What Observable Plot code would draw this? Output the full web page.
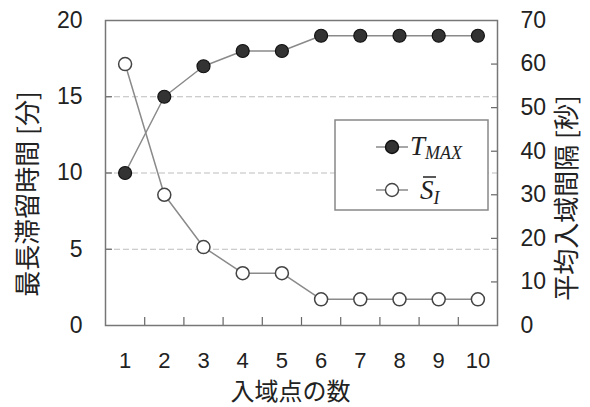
<!DOCTYPE html>
<html><head><meta charset="utf-8">
<script src="https://cdn.jsdelivr.net/npm/d3@7"></script>
<script src="https://cdn.jsdelivr.net/npm/@observablehq/plot@0.6"></script>
<style>body{margin:0;background:#fff}</style>
</head><body><div id="chart"></div>
<script>
// ---- data ----
const entryPoints = [1, 2, 3, 4, 5, 6, 7, 8, 9, 10];
const tMax = [10, 15, 17, 18, 18, 19, 19, 19, 19, 19];      // 最長滞留時間 [分]
const sI = [60, 30, 18, 12, 12, 6, 6, 6, 6, 6];             // 平均入域間隔 [秒]
const leftTicks = [0, 5, 10, 15, 20];
const rightTicks = [0, 10, 20, 30, 40, 50, 60, 70];
const gridTicks = [5, 10, 15];
const xMinorTicks = [1.5, 2.5, 3.5, 4.5, 5.5, 6.5, 7.5, 8.5, 9.5];
const leftTitle = "最長滞留時間 [分]";
const rightTitle = "平均入域間隔 [秒]";
const xTitle = "入域点の数";

const k = 20 / 70; // right axis (0-70) mapped onto left axis (0-20)
const tData = entryPoints.map((x, i) => ({x, y: tMax[i]}));
const sData = entryPoints.map((x, i) => ({x, y: sI[i] * k}));

const W = 590, H = 407, mL = 105, mR = 93, mT = 20, mB = 82;
const fw = W - mL - mR, fh = H - mT - mB;
const numFont = "'Liberation Sans', Arial, sans-serif";
const jpFont = "'Noto Sans CJK JP', sans-serif";

const plot = Plot.plot({
  width: W, height: H, marginLeft: mL, marginRight: mR, marginTop: mT, marginBottom: mB,
  x: {domain: [0.5, 10.5]},
  y: {domain: [0, 20]},
  style: {fontFamily: numFont, fontSize: "23px", color: "#222", background: "#fff"},
  marks: [
    Plot.ruleY(gridTicks, {stroke: "#bdbdbd", strokeWidth: 1, strokeDasharray: "6,3"}),
    Plot.ruleY(gridTicks, {stroke: "#666", strokeWidth: 1.2, insetRight: fw - 7}),
    Plot.ruleY(rightTicks.slice(1, -1).map(t => t * k), {stroke: "#666", strokeWidth: 1.2, insetLeft: fw - 6}),
    Plot.ruleX(xMinorTicks, {stroke: "#666", strokeWidth: 1.2, insetTop: fh - 8}),
    Plot.axisY(leftTicks, {anchor: "left", tickSize: 0, tickPadding: 23, label: null, fontSize: 23}),
    Plot.axisY(rightTicks.map(t => t * k), {anchor: "right", tickSize: 0, tickPadding: 23, label: null, fontSize: 23, tickFormat: d => Math.round(d / k)}),
    Plot.axisX(entryPoints, {anchor: "bottom", tickSize: 0, tickPadding: 27, label: null, fontSize: 22}),
    Plot.frame({stroke: "#777", strokeWidth: 1.5}),
    Plot.line(tData, {x: "x", y: "y", stroke: "#8a8a8a", strokeWidth: 1.5}),
    Plot.line(sData, {x: "x", y: "y", stroke: "#8a8a8a", strokeWidth: 1.5}),
    Plot.dot(tData, {x: "x", y: "y", r: 6.5, fill: "#333", stroke: "#111", strokeWidth: 1.2}),
    Plot.dot(sData, {x: "x", y: "y", r: 6.5, fill: "#fff", stroke: "#444", strokeWidth: 1.5}),
    Plot.text([leftTitle], {frameAnchor: "left", textAnchor: "middle", dx: -77, dy: 21, rotate: -90, fontSize: 26, fontFamily: jpFont, fill: "#222"}),
    Plot.text([rightTitle], {frameAnchor: "right", textAnchor: "middle", dx: 70, dy: 25, rotate: -90, fontSize: 26, fontFamily: jpFont, fill: "#222"}),
    Plot.text([xTitle], {frameAnchor: "bottom", dx: -11, dy: 67, lineAnchor: "middle", fontSize: 24, fontFamily: jpFont, fill: "#222"})
  ]
});
document.getElementById("chart").appendChild(plot);

// ---- legend ----
const svg = d3.select(plot);
const lg = svg.append("g").attr("text-anchor", "start");
lg.append("rect").attr("x", 335).attr("y", 120).attr("width", 153).attr("height", 90)
  .attr("fill", "#fff").attr("stroke", "#888").attr("stroke-width", 1.5);
const rows = [
  {y: 147, fill: "#333", stroke: "#111"},
  {y: 190, fill: "#fff", stroke: "#444"}
];
rows.forEach(r => {
  lg.append("line").attr("x1", 376).attr("x2", 408).attr("y1", r.y).attr("y2", r.y)
    .attr("stroke", "#8a8a8a").attr("stroke-width", 1.5);
  lg.append("circle").attr("cx", 392).attr("cy", r.y).attr("r", 6.5)
    .attr("fill", r.fill).attr("stroke", r.stroke).attr("stroke-width", 1.4);
});
const serif = "'Liberation Serif', 'DejaVu Serif', serif";
const t1 = lg.append("text").attr("x", 410).attr("y", 155).attr("text-anchor", "start")
  .attr("font-family", serif).attr("font-style", "italic")
  .attr("font-size", 27).attr("fill", "#222");
t1.append("tspan").text("T");
t1.append("tspan").attr("font-size", 18).attr("dy", 4).text("MAX");
const t2 = lg.append("text").attr("x", 420).attr("y", 199).attr("text-anchor", "start")
  .attr("font-family", serif).attr("font-style", "italic")
  .attr("font-size", 27).attr("fill", "#222");
t2.append("tspan").text("S");
t2.append("tspan").attr("font-size", 18).attr("dy", 5).text("I");
lg.append("line").attr("x1", 423).attr("x2", 436).attr("y1", 177).attr("y2", 177)
  .attr("stroke", "#222").attr("stroke-width", 1.5);
</script>
</body></html>
